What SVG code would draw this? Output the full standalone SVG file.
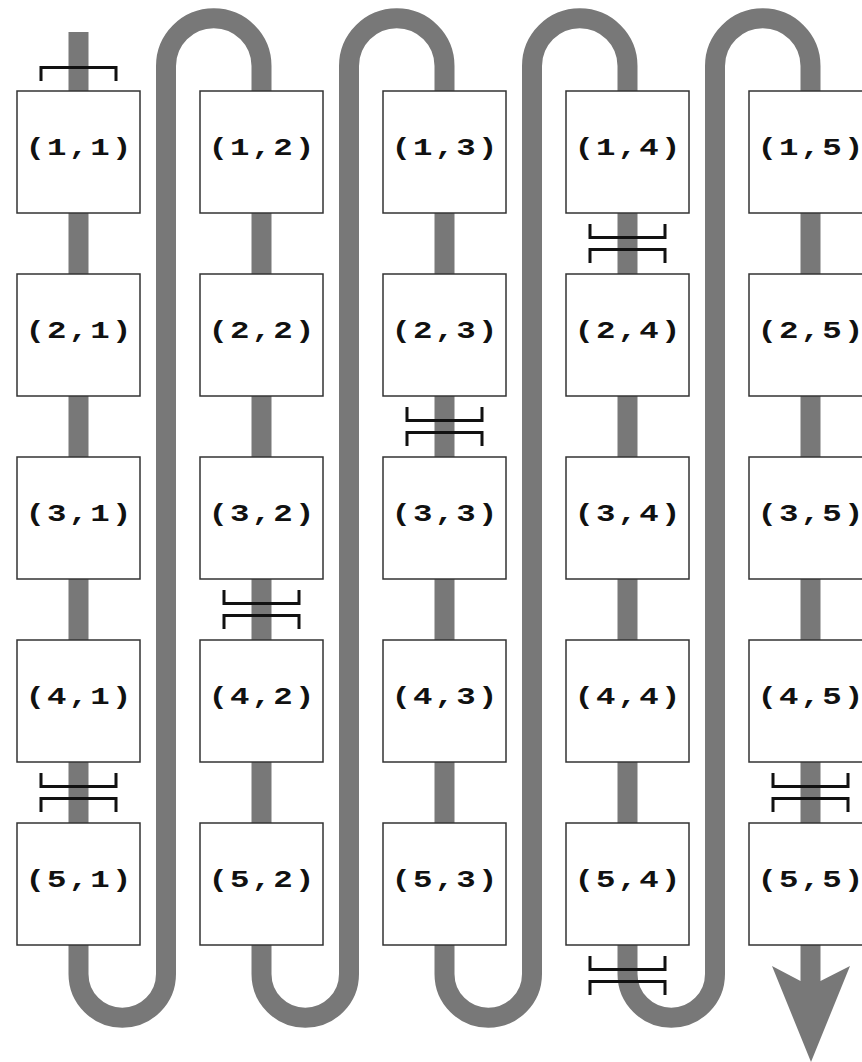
<svg xmlns="http://www.w3.org/2000/svg" width="862" height="1062" viewBox="0 0 862 1062">
<style>
.node rect{fill:#fff;stroke:#333;stroke-width:1.5}
.node text{font-family:"Liberation Mono","DejaVu Sans Mono",monospace;font-weight:bold;font-size:24px;letter-spacing:1.6px;text-anchor:middle;fill:#111}
.br{fill:none;stroke:#111;stroke-width:3;stroke-linecap:square}
</style>
<defs>
<path id="pair" class="br" d="M-37.5 -18 V-6 H37.5 V-18 M-37.5 18 V6 H37.5 V18"/>
</defs>
<rect width="862" height="1062" fill="#fff"/>
<g id="connectors">
<path fill="none" stroke="#787878" stroke-width="20" d="M78.5 32 V974 A43.75 43.75 0 0 0 166 974 V66 A47.75 47.75 0 0 1 261.5 66 V974 A43.75 43.75 0 0 0 349 974 V66 A47.75 47.75 0 0 1 444.5 66 V974 A43.75 43.75 0 0 0 532 974 V66 A47.75 47.75 0 0 1 627.5 66 V974 A43.75 43.75 0 0 0 715 974 V66 A47.75 47.75 0 0 1 810.5 66 V982"/>
<polygon fill="#787878" points="772,966 800.5,981 820.5,981 850,966 811,1062"/>
</g>
<g id="n11" class="node"><rect x="17" y="91" width="123" height="122"/><text transform="translate(79.5 155) scale(1.35 1)">(1,1)</text></g>
<g id="n12" class="node"><rect x="200" y="91" width="123" height="122"/><text transform="translate(262.5 155) scale(1.35 1)">(1,2)</text></g>
<g id="n13" class="node"><rect x="383" y="91" width="123" height="122"/><text transform="translate(445.5 155) scale(1.35 1)">(1,3)</text></g>
<g id="n14" class="node"><rect x="566" y="91" width="123" height="122"/><text transform="translate(628.5 155) scale(1.35 1)">(1,4)</text></g>
<g id="n15" class="node"><rect x="749" y="91" width="123" height="122"/><text transform="translate(811.5 155) scale(1.35 1)">(1,5)</text></g>
<g id="n21" class="node"><rect x="17" y="274" width="123" height="122"/><text transform="translate(79.5 338) scale(1.35 1)">(2,1)</text></g>
<g id="n22" class="node"><rect x="200" y="274" width="123" height="122"/><text transform="translate(262.5 338) scale(1.35 1)">(2,2)</text></g>
<g id="n23" class="node"><rect x="383" y="274" width="123" height="122"/><text transform="translate(445.5 338) scale(1.35 1)">(2,3)</text></g>
<g id="n24" class="node"><rect x="566" y="274" width="123" height="122"/><text transform="translate(628.5 338) scale(1.35 1)">(2,4)</text></g>
<g id="n25" class="node"><rect x="749" y="274" width="123" height="122"/><text transform="translate(811.5 338) scale(1.35 1)">(2,5)</text></g>
<g id="n31" class="node"><rect x="17" y="457" width="123" height="122"/><text transform="translate(79.5 521) scale(1.35 1)">(3,1)</text></g>
<g id="n32" class="node"><rect x="200" y="457" width="123" height="122"/><text transform="translate(262.5 521) scale(1.35 1)">(3,2)</text></g>
<g id="n33" class="node"><rect x="383" y="457" width="123" height="122"/><text transform="translate(445.5 521) scale(1.35 1)">(3,3)</text></g>
<g id="n34" class="node"><rect x="566" y="457" width="123" height="122"/><text transform="translate(628.5 521) scale(1.35 1)">(3,4)</text></g>
<g id="n35" class="node"><rect x="749" y="457" width="123" height="122"/><text transform="translate(811.5 521) scale(1.35 1)">(3,5)</text></g>
<g id="n41" class="node"><rect x="17" y="640" width="123" height="122"/><text transform="translate(79.5 704) scale(1.35 1)">(4,1)</text></g>
<g id="n42" class="node"><rect x="200" y="640" width="123" height="122"/><text transform="translate(262.5 704) scale(1.35 1)">(4,2)</text></g>
<g id="n43" class="node"><rect x="383" y="640" width="123" height="122"/><text transform="translate(445.5 704) scale(1.35 1)">(4,3)</text></g>
<g id="n44" class="node"><rect x="566" y="640" width="123" height="122"/><text transform="translate(628.5 704) scale(1.35 1)">(4,4)</text></g>
<g id="n45" class="node"><rect x="749" y="640" width="123" height="122"/><text transform="translate(811.5 704) scale(1.35 1)">(4,5)</text></g>
<g id="n51" class="node"><rect x="17" y="823" width="123" height="122"/><text transform="translate(79.5 887) scale(1.35 1)">(5,1)</text></g>
<g id="n52" class="node"><rect x="200" y="823" width="123" height="122"/><text transform="translate(262.5 887) scale(1.35 1)">(5,2)</text></g>
<g id="n53" class="node"><rect x="383" y="823" width="123" height="122"/><text transform="translate(445.5 887) scale(1.35 1)">(5,3)</text></g>
<g id="n54" class="node"><rect x="566" y="823" width="123" height="122"/><text transform="translate(628.5 887) scale(1.35 1)">(5,4)</text></g>
<g id="n55" class="node"><rect x="749" y="823" width="123" height="122"/><text transform="translate(811.5 887) scale(1.35 1)">(5,5)</text></g>
<g id="brackets">
<path class="br" d="M41 79.5 V67.5 H116 V79.5"/>
<use href="#pair" x="627.5" y="243.5"/>
<use href="#pair" x="444.5" y="426.5"/>
<use href="#pair" x="261.5" y="609.5"/>
<use href="#pair" x="78.5" y="792.5"/>
<use href="#pair" x="810.5" y="792.5"/>
<use href="#pair" x="627.5" y="975.5"/>
</g>
</svg>
